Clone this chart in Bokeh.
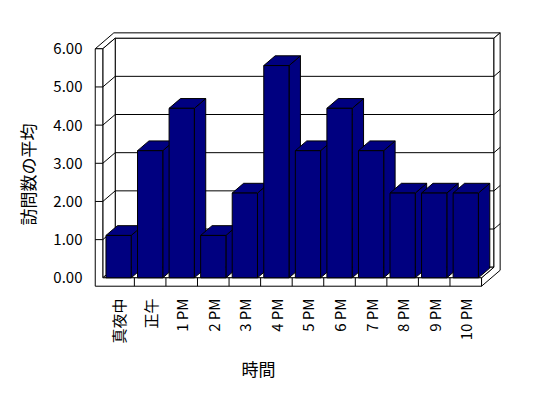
import math
from bokeh.plotting import figure
from bokeh.models import Range1d, FixedTicker, NumeralTickFormatter, Title
from bokeh.embed import file_html
from bokeh.resources import INLINE

# ---- data ----
categories = ["真夜中", "正午", "1 PM", "2 PM", "3 PM", "4 PM", "5 PM",
              "6 PM", "7 PM", "8 PM", "9 PM", "10 PM"]
visits = [1.11, 3.33, 4.44, 1.11, 2.22, 5.56, 3.33, 4.44, 3.33, 2.22, 2.22, 2.22]
value_ticks = [0, 1, 2, 3, 4, 5, 6]
x_title = "時間"
y_title = "訪問数の平均"

# ---- 3D styling constants ----
DEPTH_X = 0.393      # x shift for one unit of depth
DEPTH_Y = 0.278      # y shift for one unit of depth
WALL_T = 0.24        # left wall thickness (x units)
FLOOR_T = 0.22       # floor thickness (y units)
BACK_T = 0.5         # back wall thickness (depth units)
BAR_W = 0.8
BAR_D = 0.92
BAR_COLOR = "#000080"
FONT = "Noto Sans CJK JP"

n = len(categories)
vmax = value_ticks[-1]
xL_in = -0.5
xL_out = xL_in - WALL_T
xR = n - 0.5
yB = -FLOOR_T


def P(x, y, z):
    return x + z * DEPTH_X, y + z * DEPTH_Y


def poly(pts):
    xs = [P(*q)[0] for q in pts]
    ys = [P(*q)[1] for q in pts]
    return xs, ys


p = figure(width=540, height=390, title=None,
           x_range=Range1d(-0.795, 12.164), y_range=Range1d(-0.280, 6.531),
           output_backend="svg", toolbar_location=None,
           min_border_left=93, min_border_right=38,
           min_border_top=28, min_border_bottom=102)
p.outline_line_color = None
p.grid.visible = False
p.background_fill_color = "white"
p.border_fill_color = "white"

# ---- walls and floor ----
faces = [
    [(xL_in, 0, 1), (xR, 0, 1), (xR, vmax, 1), (xL_in, vmax, 1)],
    [(xL_out, vmax, 0), (xL_in, vmax, 0), (xL_in, vmax, 1), (xR, vmax, 1),
     (xR, vmax, 1 + BACK_T), (xL_out, vmax, 1 + BACK_T)],
    [(xR, yB, 0), (xR, yB, 1 + BACK_T), (xR, vmax, 1 + BACK_T), (xR, vmax, 1),
     (xR, 0, 1), (xR, 0, 0)],
    [(xL_in, 0, 0), (xL_in, 0, 1), (xL_in, vmax, 1), (xL_in, vmax, 0)],
    [(xL_in, 0, 0), (xR, 0, 0), (xR, 0, 1), (xL_in, 0, 1)],
    [(xL_out, yB, 0), (xR, yB, 0), (xR, 0, 0), (xL_in, 0, 0),
     (xL_in, vmax, 0), (xL_out, vmax, 0)],
]
fx, fy = [], []
for f in faces:
    a, b = poly(f)
    fx.append(a)
    fy.append(b)
p.patches(fx, fy, fill_color="white", line_color="black", line_width=1)

gx, gy = [], []
for v in value_ticks[1:-1]:
    a, b = poly([(xL_out, v, 0), (xL_in, v, 0), (xL_in, v, 1), (xR, v, 1),
                 (xR, v, 1 + BACK_T)])
    gx.append(a)
    gy.append(b)
for k in range(1, n):
    a, b = poly([(k - 0.5, yB, 0), (k - 0.5, 0, 0)])
    gx.append(a)
    gy.append(b)
p.multi_line(gx, gy, line_color="black", line_width=1)

# ---- bars ----
bx, by = [], []
for i, v in enumerate(visits):
    x0, x1 = i - BAR_W / 2, i + BAR_W / 2
    for f in (
        [(x1, 0, 0), (x1, 0, BAR_D), (x1, v, BAR_D), (x1, v, 0)],
        [(x0, v, 0), (x1, v, 0), (x1, v, BAR_D), (x0, v, BAR_D)],
        [(x0, 0, 0), (x1, 0, 0), (x1, v, 0), (x0, v, 0)],
    ):
        a, b = poly(f)
        bx.append(a)
        by.append(b)
p.patches(bx, by, fill_color=BAR_COLOR, line_color="black", line_width=1)

# ---- axes ----
p.xaxis.ticker = FixedTicker(ticks=list(range(n)))
p.xaxis.major_label_overrides = {i: c for i, c in enumerate(categories)}
p.xaxis.major_label_orientation = math.pi / 2
p.yaxis.ticker = FixedTicker(ticks=value_ticks)
p.yaxis.formatter = NumeralTickFormatter(format="0.00")
for ax in (p.xaxis, p.yaxis):
    ax.axis_line_color = None
    ax.major_tick_line_color = None
    ax.minor_tick_line_color = None
    ax.major_tick_out = 0
    ax.major_tick_in = 0
    ax.major_label_text_font = FONT
    ax.major_label_text_font_size = "15px"
    ax.major_label_text_color = "black"
p.xaxis.major_label_standoff = 10
p.yaxis.major_label_standoff = 11

# ---- axis titles ----
p.add_layout(Title(text=x_title, align="left", offset=148, standoff=14,
                   text_font=FONT, text_font_size="17px",
                   text_font_style="normal", text_color="black"), "below")
p.add_layout(Title(text=y_title, align="left", offset=63, standoff=22,
                   text_font=FONT, text_font_size="17px",
                   text_font_style="normal", text_color="black"), "left")

open("out.html", "w").write(file_html(p, INLINE))
